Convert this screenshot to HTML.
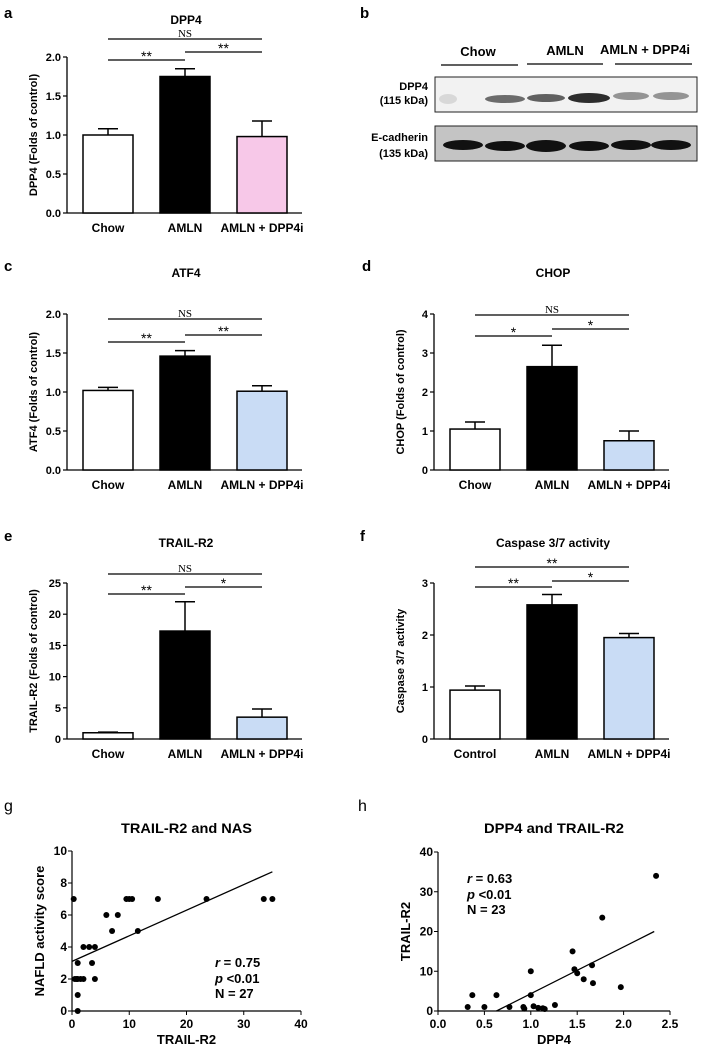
<!DOCTYPE html>
<html><head><meta charset="utf-8"><style>
body{margin:0;background:#fff}
svg{display:block;font-family:"Liberation Sans",Arial,sans-serif}
</style></head><body>
<svg id="fig" width="719" height="1048" viewBox="0 0 719 1048" xmlns="http://www.w3.org/2000/svg">
<g font-size="15" font-weight="bold">
<text x="4" y="18">a</text><text x="360" y="18">b</text>
<text x="4" y="271">c</text><text x="362" y="271">d</text>
<text x="4" y="541">e</text><text x="360" y="541">f</text>
<text x="4" y="811" font-weight="normal" font-size="16">g</text><text x="358" y="811" font-weight="normal" font-size="16">h</text>
</g>
<g font-weight="bold">
<text x="478" y="56" font-size="13" text-anchor="middle">Chow</text>
<text x="565" y="55" font-size="13" text-anchor="middle">AMLN</text>
<text x="645" y="54" font-size="13" text-anchor="middle">AMLN + DPP4i</text>
<line x1="441" y1="65" x2="518" y2="65" stroke="#000" stroke-width="1.3"/>
<line x1="527" y1="64" x2="603" y2="64" stroke="#000" stroke-width="1.3"/>
<line x1="615" y1="64" x2="692" y2="64" stroke="#000" stroke-width="1.3"/>
<text x="428" y="90" font-size="11" text-anchor="end">DPP4</text>
<text x="428" y="104" font-size="11" text-anchor="end">(115 kDa)</text>
<text x="428" y="141" font-size="11" text-anchor="end">E-cadherin</text>
<text x="428" y="157" font-size="11" text-anchor="end">(135 kDa)</text>
<rect x="435" y="77" width="262" height="35" fill="#f2f2f2" stroke="#222" stroke-width="1"/>
<rect x="435" y="126" width="262" height="35" fill="#c4c4c4" stroke="#222" stroke-width="1"/>
<g fill="#222">
<ellipse cx="448" cy="99" rx="9" ry="5" opacity="0.12"/>
<ellipse cx="505" cy="99" rx="20" ry="4" opacity="0.65"/>
<ellipse cx="546" cy="98" rx="19" ry="4" opacity="0.7"/>
<ellipse cx="589" cy="98" rx="21" ry="5" opacity="0.95"/>
<ellipse cx="631" cy="96" rx="18" ry="4" opacity="0.45"/>
<ellipse cx="671" cy="96" rx="18" ry="4" opacity="0.45"/>
</g>
<g fill="#111">
<ellipse cx="463" cy="145" rx="20" ry="5"/><ellipse cx="505" cy="146" rx="20" ry="5"/>
<ellipse cx="546" cy="146" rx="20" ry="6"/><ellipse cx="589" cy="146" rx="20" ry="5"/>
<ellipse cx="631" cy="145" rx="20" ry="5"/><ellipse cx="671" cy="145" rx="20" ry="5"/>
</g>
</g>
</svg>
<script>
// Bar chart data
const barTitles = ["DPP4","ATF4","CHOP","TRAIL-R2","Caspase 3/7 activity"];
const barYLabels = ["DPP4 (Folds of control)","ATF4 (Folds of control)","CHOP (Folds of control)","TRAIL-R2 (Folds of control)","Caspase 3/7 activity"];
const barCats = [["Chow","AMLN","AMLN + DPP4i"],["Chow","AMLN","AMLN + DPP4i"],["Chow","AMLN","AMLN + DPP4i"],["Chow","AMLN","AMLN + DPP4i"],["Control","AMLN","AMLN + DPP4i"]];
const barMeans = [[1.0,1.75,0.98],[1.02,1.46,1.01],[1.05,2.65,0.75],[1.0,17.3,3.5],[0.94,2.58,1.95]];
const barErrs = [[0.08,0.1,0.2],[0.04,0.07,0.07],[0.18,0.55,0.25],[0.1,4.7,1.3],[0.08,0.2,0.08]];
const barTicks = [["0.0","0.5","1.0","1.5","2.0"],["0.0","0.5","1.0","1.5","2.0"],["0","1","2","3","4"],["0","5","10","15","20","25"],["0","1","2","3"]];
const barSig = [["**","**","NS"],["**","**","NS"],["*","*","NS"],["**","*","NS"],["**","*","**"]];
// Scatter data
const gX = [0.3,1,0.5,1,1.5,2,0.8,1,1,2,3,4,3.5,4,6,7,8,9.5,10,10.5,11.5,15,23.5,33.5,35];
const gY = [7,3,2,2,2,2,2,1,0,4,4,4,3,2,6,5,6,7,7,7,5,7,7,7,7];
const gFit = [[0,3.1],[35,8.7]];
const gXTicks = ["0","10","20","30","40"];
const gYTicks = ["0","2","4","6","8","10"];
const hX = [0.32,0.37,0.5,0.63,0.77,0.92,0.93,1.0,1.0,1.03,1.08,1.13,1.15,1.26,1.45,1.47,1.5,1.57,1.66,1.67,1.77,1.97,2.35];
const hY = [1,4,1,4,1,1,0.6,10,4,1.2,0.8,0.7,0.5,1.5,15,10.5,9.5,8,11.5,7,23.5,6,34];
const hFit = [[0.63,0],[2.33,20]];
const hXTicks = ["0.0","0.5","1.0","1.5","2.0","2.5"];
const hYTicks = ["0","10","20","30","40"];

const NS="http://www.w3.org/2000/svg";
const svg=document.getElementById('fig');
function mk(tag,attrs,parent,text){const e=document.createElementNS(NS,tag);for(const k in attrs)e.setAttribute(k,attrs[k]);if(text!==undefined)e.textContent=text;(parent||svg).appendChild(e);return e;}

const barLayout=[
 {ax:67,y0:213,yT:57,ty:24,s:[60,52,39]},
 {ax:67,y0:470,yT:314,ty:277,s:[342,335,319]},
 {ax:434,y0:470,yT:314,ty:277,s:[336,329,315]},
 {ax:67,y0:739,yT:583,ty:547,s:[594,587,574]},
 {ax:434,y0:739,yT:583,ty:547,s:[587,581,567]}];
const fills=[["#fff","#000","#f7c8e8"],["#fff","#000","#c9dcf5"],["#fff","#000","#c9dcf5"],["#fff","#000","#c9dcf5"],["#fff","#000","#c9dcf5"]];
barLayout.forEach((L,p)=>{
  const g=mk('g',{});
  
  
  const ticks=barTicks[p];const ymax=parseFloat(ticks[ticks.length-1]);
  const ys=v=>L.y0-(v/ymax)*(L.y0-L.yT);
  const xs=i=>L.ax+16+i*77;
  const t=mk('text',{x:L.ax+119,y:L.ty,'font-size':12,'font-weight':'bold','text-anchor':'middle'},g,barTitles[p]);
  
  
  mk('line',{x1:L.ax,y1:L.yT,x2:L.ax,y2:L.y0,stroke:'#000','stroke-width':1.3},g);
  mk('line',{x1:L.ax,y1:L.y0,x2:L.ax+235,y2:L.y0,stroke:'#000','stroke-width':1.3},g);
  ticks.forEach(tk=>{const y=ys(parseFloat(tk));
    mk('line',{x1:L.ax-4,y1:y,x2:L.ax,y2:y,stroke:'#000','stroke-width':1.2},g);
    mk('text',{x:L.ax-6,y:y+4,'font-size':11,'font-weight':'bold','text-anchor':'end'},g,tk);});
  const yl=mk('text',{x:0,y:0,'font-size':11,'font-weight':'bold','text-anchor':'middle',transform:`translate(${L.ax-30},${(L.y0+L.yT)/2}) rotate(-90)`},g,barYLabels[p]);
  
  
  barMeans[p].forEach((m,i)=>{
    const x=xs(i),top=ys(m),et=ys(m+barErrs[p][i]);
    mk('line',{x1:x+25,y1:top,x2:x+25,y2:et,stroke:'#000','stroke-width':1.5},g);
    mk('line',{x1:x+15,y1:et,x2:x+35,y2:et,stroke:'#000','stroke-width':1.5},g);
    const r=mk('rect',{x:x,y:top,width:50,height:L.y0-top,fill:fills[p][i],stroke:'#000','stroke-width':1.5},g);
    
    
    mk('text',{x:x+25,y:L.y0+19,'font-size':12,'font-weight':'bold','text-anchor':'middle'},g,barCats[p][i]);
  });
  const c0=xs(0)+25,c1=xs(1)+25,c2=xs(2)+25;
  const sig=[[c0,c1,L.s[0]],[c1,c2,L.s[1]],[c0,c2,L.s[2]]];
  sig.forEach((s,k)=>{
    mk('line',{x1:s[0],y1:s[2],x2:s[1],y2:s[2],stroke:'#000','stroke-width':1.2},g);
    const lab=barSig[p][k];
    const tt=mk('text',{x:(s[0]+s[1])/2,y:lab==='NS'?s[2]-2:s[2]+1,'font-size':lab==='NS'?11:14,'text-anchor':'middle','font-family':lab==='NS'?'Liberation Serif, serif':'Liberation Sans, sans-serif'},g,lab);
    
    
  });
});

function scatter(name,title,tw,xL,yL,ax,y0,xEnd,yTop,xT,yT,X,Y,fit,stats,sx){
  const g=mk('g',{});
  
  
  const xmax=parseFloat(xT[xT.length-1]),ymax=parseFloat(yT[yT.length-1]);
  const xs=v=>ax+v/xmax*(xEnd-ax), ys=v=>y0-v/ymax*(y0-yTop);
  mk('text',{x:(ax+xEnd)/2-tw/2,y:833,'font-size':14,'font-weight':'bold',textLength:tw,lengthAdjust:'spacingAndGlyphs'},g,title);
  mk('line',{x1:ax,y1:yTop,x2:ax,y2:y0,stroke:'#000','stroke-width':1.2},g);
  mk('line',{x1:ax,y1:y0,x2:xEnd,y2:y0,stroke:'#000','stroke-width':1.2},g);
  xT.forEach(t=>{const x=xs(parseFloat(t));mk('line',{x1:x,y1:y0,x2:x,y2:y0+4,stroke:'#000'},g);mk('text',{x:x,y:y0+17,'font-size':12,'font-weight':'bold','text-anchor':'middle'},g,t);});
  yT.forEach(t=>{const y=ys(parseFloat(t));mk('line',{x1:ax-4,y1:y,x2:ax,y2:y,stroke:'#000'},g);mk('text',{x:ax-5,y:y+4,'font-size':12,'font-weight':'bold','text-anchor':'end'},g,t);});
  mk('text',{x:(ax+xEnd)/2,y:1044,'font-size':13,'font-weight':'bold','text-anchor':'middle'},g,xL);
  mk('text',{x:0,y:0,'font-size':13,'font-weight':'bold','text-anchor':'middle',transform:`translate(${ax-28},${(y0+yTop)/2}) rotate(-90)`},g,yL);
  mk('line',{x1:xs(fit[0][0]),y1:ys(fit[0][1]),x2:xs(fit[1][0]),y2:ys(fit[1][1]),stroke:'#000','stroke-width':1.3},g);
  X.forEach((v,i)=>{const c=mk('circle',{cx:xs(v),cy:ys(Y[i]),r:3,fill:'#000'},g);
    
    });
  const st=mk('text',{x:sx[0],y:sx[1],'font-size':13,'font-weight':'bold'},g);
  mk('tspan',{'font-style':'italic'},st,'r');mk('tspan',{},st,' = '+stats[0]);
  const s2=mk('text',{x:sx[0],y:sx[1]+16,'font-size':13,'font-weight':'bold'},g);
  mk('tspan',{'font-style':'italic'},s2,'p');mk('tspan',{},s2,' <0.01');
  mk('text',{x:sx[0],y:sx[1]+31,'font-size':13,'font-weight':'bold'},g,'N = '+stats[1]);
}
scatter('scatter-trail-r2-nas','TRAIL-R2 and NAS',131,'TRAIL-R2','NAFLD activity score',72,1011,301,851,gXTicks,gYTicks,gX,gY,gFit,['0.75','27'],[215,967]);
scatter('scatter-dpp4-trail-r2','DPP4 and TRAIL-R2',140,'DPP4','TRAIL-R2',438,1011,670,852,hXTicks,hYTicks,hX,hY,hFit,['0.63','23'],[467,883]);
</script>
</body></html>
